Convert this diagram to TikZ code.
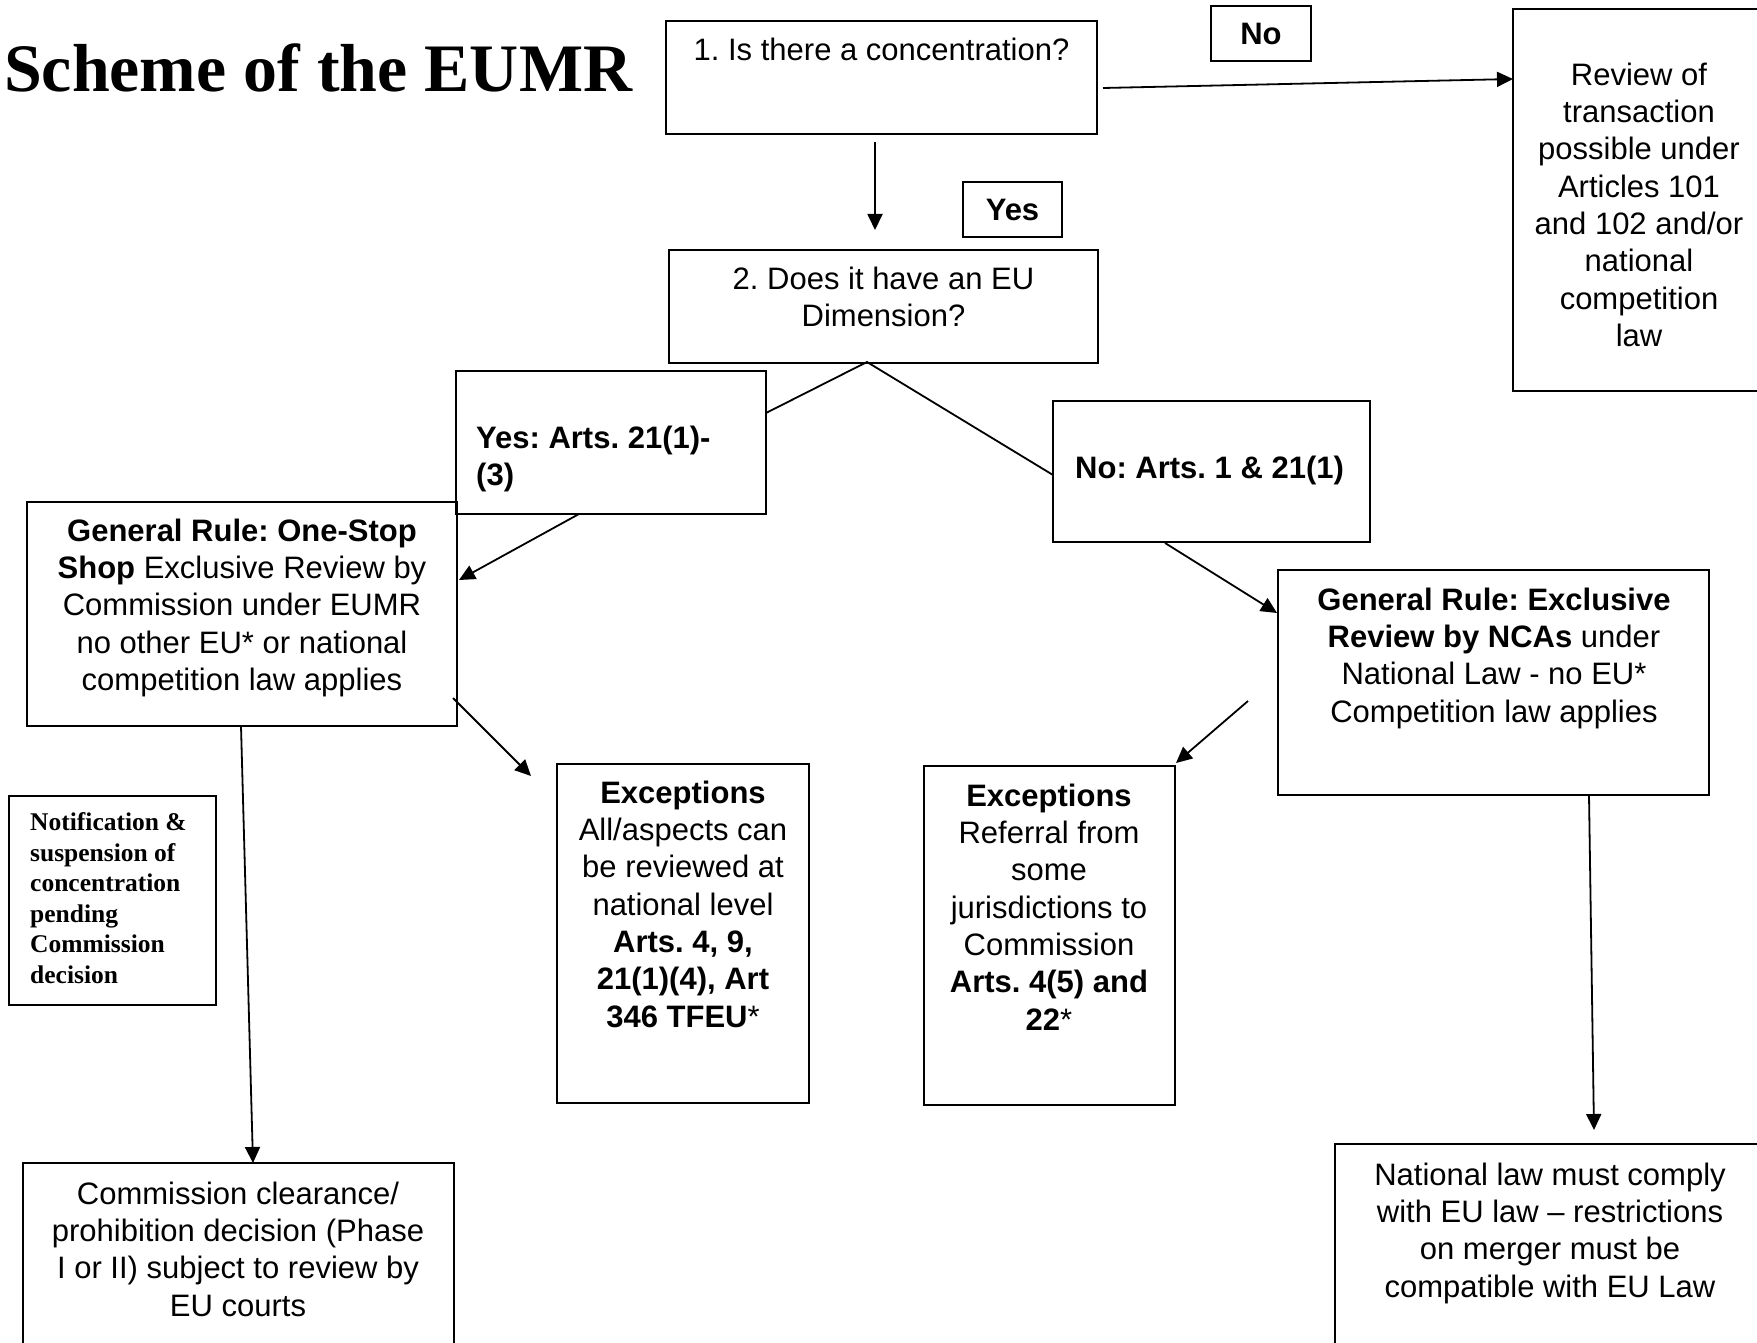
\documentclass[tikz,border=0pt]{standalone}
\usepackage{fontspec}
\setmainfont{Liberation Sans}
\newfontfamily\tnr{Liberation Serif}
\usetikzlibrary{arrows.meta,calc}
\frenchspacing
\begin{document}
\begin{tikzpicture}[x=1pt,y=-1pt,
  box/.style={draw, line width=2pt, inner sep=0pt, outer sep=0pt, anchor=north west},
  txt/.style={font=\fontsize{31}{37.3}\selectfont\frenchspacing, align=center, inner sep=0pt, anchor=north},
  ltxt/.style={font=\fontsize{31}{37.3}\selectfont\frenchspacing, align=left, inner sep=0pt, anchor=north west},
  lbl/.style={draw, line width=2pt, inner sep=0pt, outer sep=0pt, font=\fontsize{31}{37.3}\selectfont\bfseries},
  arr/.style={line width=1.8pt, -{Triangle[length=16pt,width=15pt]}},
  ln/.style={line width=1.8pt}]
\path[use as bounding box] (0,0) rectangle (1757,1343);
\clip (0,0) rectangle (1757,1343);

% title
\node[anchor=base west, inner sep=0pt, font={\tnr\bfseries\fontsize{67.9}{80}\selectfont}] (title) at (4,92) {Scheme of the EUMR};

% boxes
\node[box, minimum width=431, minimum height=113] (b1) at (666,21) {};
\node[lbl, minimum width=100, minimum height=55] (no) at (1261,33.5) {No};
\node[box, minimum width=252, minimum height=382] (rev) at (1513,9) {};
\node[lbl, minimum width=99, minimum height=55] (yes) at (1012.5,209.5) {Yes};
\node[box, minimum width=429, minimum height=113] (b2) at (669,250) {};
\node[box, minimum width=310, minimum height=143] (ya) at (456,371) {};
\node[box, minimum width=317, minimum height=141] (na) at (1053,401) {};
\node[box, minimum width=430, minimum height=224] (g1) at (27,502) {};
\node[box, minimum width=431, minimum height=225] (g2) at (1278,570) {};
\node[box, minimum width=207, minimum height=209] (nt) at (9,796) {};
\node[box, minimum width=252, minimum height=339] (e1) at (557,764) {};
\node[box, minimum width=251, minimum height=339] (e2) at (924,766) {};
\node[box, minimum width=431, minimum height=207] (cc) at (23,1163) {};
\node[box, minimum width=430, minimum height=226] (nl) at (1335,1144) {};

% texts
\node[txt] (b1t) at (881.5,34) {\strut 1. Is there a concentration?};
\node[txt] (b2t) at (883.5,263) {\strut 2. Does it have an EU\\Dimension?};
\node[txt] (revt) at (1639,59) {\strut Review of\\transaction\\possible under\\Articles 101\\and 102 and/or\\national\\competition\\law};
\node[ltxt] (yat) at (476,422) {\strut\textbf{Yes: Arts. 21(1)-}\\\textbf{(3)}};
\node[ltxt] (nat) at (1075,452) {\strut\textbf{No: Arts. 1 \& 21(1)}};
\node[txt] (g1t) at (242,515) {\strut\textbf{General Rule: One-Stop}\\\textbf{Shop} Exclusive Review by\\Commission under EUMR\\no other EU* or national\\competition law applies};
\node[txt] (g2t) at (1494,584) {\strut\textbf{General Rule: Exclusive}\\\textbf{Review by NCAs} under\\National Law - no EU*\\Competition law applies};
\node[txt] (e1t) at (683,777) {\strut\textbf{Exceptions}\\All/aspects can\\be reviewed at\\national level\\\textbf{Arts. 4, 9,}\\\textbf{21(1)(4), Art}\\\textbf{346 TFEU}*};
\node[txt] (e2t) at (1049,780) {\strut\textbf{Exceptions}\\Referral from\\some\\jurisdictions to\\Commission\\\textbf{Arts. 4(5) and}\\\textbf{22}*};
\node[txt] (cct) at (238,1178) {\strut Commission clearance/\\prohibition decision (Phase\\I or II) subject to review by\\EU courts};
\node[txt] (nlt) at (1550,1159) {\strut National law must comply\\with EU law – restrictions\\on merger must be\\compatible with EU Law};
\node[anchor=north west, align=left, inner sep=0pt, font={\tnr\bfseries\fontsize{25.5}{30.5}\selectfont}] (ntt) at (30,809) {\strut Notification \&\\suspension of\\concentration\\pending\\Commission\\decision};

% connectors
\draw[arr] ([shift={(6,10.5)}]b1.east) -- ([shift={(0,70)}]rev.north west);
\draw[arr] ([shift={(-6.5,8)}]b1.south) -- ([shift={(-8.5,-20)}]b2.north);
\coordinate (apex) at ([shift={(-16.5,-1)}]b2.south);
\draw[ln] ([shift={(0,-29.5)}]ya.east) -- (apex) -- ([shift={(0,3.5)}]na.west);
\draw[arr] ([shift={(-32,0)}]ya.south) -- ([shift={(2,-34)}]g1.east);
\draw[arr] ([shift={(-4,84)}]g1.east) -- ([shift={(-26,12)}]e1.north west);
\draw[arr] ([shift={(-1,0)}]g1.south) -- ([shift={(14.5,0)}]cc.north);
\draw[arr] ([shift={(-46.5,1)}]na.south) -- ([shift={(-1,-69.5)}]g2.west);
\draw[arr] ([shift={(-30,18.5)}]g2.west) -- ([shift={(1,-3)}]e2.north east);
\draw[arr] ([shift={(95.5,0)}]g2.south) -- ([shift={(44,-14)}]nl.north);
\end{tikzpicture}
\end{document}
